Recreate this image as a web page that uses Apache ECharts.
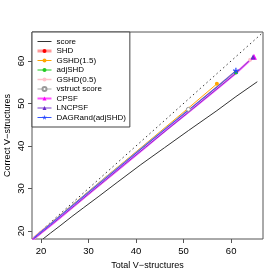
<!DOCTYPE html>
<html><head><meta charset="utf-8">
<script src="https://cdn.jsdelivr.net/npm/echarts@6/dist/echarts.min.js"></script>
<style>html,body{margin:0;padding:0;background:#fff}#c{width:280px;height:280px}</style>
</head><body><div id="c"></div>
<script>
var xTicks = [20, 30, 40, 50, 60];
var yTicks = [20, 30, 40, 50, 60];
var refX = [18.1, 66.7];
var refY = [18.1, 66.7];

var scoreX = [20.4, 22, 24, 26.5, 29, 32, 36, 41, 46, 51, 57, 61, 65.5];
var scoreY = [18.1, 19.5, 21.2, 23.4, 25.5, 28.0, 31.4, 35.6, 39.6, 43.6, 48.3, 51.6, 55.1];

var shdX = [18.4, 20, 22, 24.5, 27, 30, 33.5, 37.5, 42, 46.5, 51, 57, 61];
var shdY = [18.2, 19.7, 21.5, 23.8, 26.1, 28.9, 32.1, 35.8, 40.0, 44.1, 48.2, 53.7, 57.4];

var g15X = [18.5, 20, 22, 24.5, 27, 30, 33.5, 37.5, 42, 46.5, 51, 57];
var g15Y = [18.3, 19.8, 21.7, 24.1, 26.5, 29.3, 32.6, 36.3, 40.5, 44.7, 48.9, 54.6];

var adjX = [18.4, 20, 22, 24.5, 27, 30, 33.5, 37.5, 42, 46.5, 51, 57, 61];
var adjY = [18.2, 19.7, 21.6, 23.9, 26.2, 29.0, 32.2, 35.9, 40.1, 44.2, 48.3, 53.8, 57.3];

var g05X = [18.3, 20, 22, 24.5, 27, 30, 33.5, 37.5, 42, 46.5, 51, 57, 61, 64];
var g05Y = [18.0, 19.6, 21.4, 23.7, 26.0, 28.8, 32.0, 35.7, 39.8, 44.0, 48.0, 53.5, 57.2, 60.3];

var vsX = [18.6, 19.5, 20.5, 21.5, 23, 24.5, 26, 28, 30, 33.5, 37.5, 42, 46.5, 51];
var vsY = [18.5, 19.4, 20.3, 21.3, 22.7, 24.1, 25.6, 27.4, 29.3, 32.6, 36.2, 40.4, 44.5, 48.6];

var cpX = [18.2, 20, 22, 24.5, 27, 30, 33.5, 37.5, 42, 46.5, 51, 57, 61, 64.8];
var cpY = [17.9, 19.5, 21.3, 23.6, 25.9, 28.7, 31.9, 35.6, 39.7, 43.9, 47.9, 53.4, 57.1, 61.0];

var lnX = [18.2, 20, 22, 24.5, 27, 30, 33.5, 37.5, 42, 46.5, 51, 57, 61, 64.6];
var lnY = [17.9, 19.5, 21.3, 23.6, 25.9, 28.7, 31.9, 35.6, 39.7, 43.8, 47.9, 53.4, 57.1, 60.9];

var dagX = [18.4, 20, 22, 24.5, 27, 30, 33.5, 37.5, 42, 46.5, 51, 57, 61];
var dagY = [18.3, 19.8, 21.6, 24.0, 26.3, 29.1, 32.3, 36.0, 40.2, 44.3, 48.4, 53.9, 57.7];

function pts(xs, ys){ return xs.map(function(x,i){return [x, ys[i]];}); }

var FONT = 'Liberation Sans';
var chart = echarts.init(document.getElementById('c'), null, {renderer:'canvas'});
function ser(name, xs, ys, lineColor, lw, sym, symColor, symSize, extra){
  var last = xs.length - 1;
  var s = {
    name: name, type: 'line', data: pts(xs, ys),
    symbol: sym, showSymbol: true,
    symbolSize: function(v, p){ return p.dataIndex === last ? symSize : 0; },
    lineStyle: {color: lineColor, width: lw},
    itemStyle: {color: symColor, borderColor: symColor, borderWidth: 0},
    emphasis: {disabled: true}, silent: true
  };
  if (extra) for (var k in extra) s[k] = extra[k];
  return s;
}
var starPath = 'path://M4,0L6,0L6,3.6L9.4,2.5L10,4.4L6.6,5.5L8.7,8.4L7.1,9.6L5,6.7L2.9,9.6L1.3,8.4L3.4,5.5L0,4.4L0.6,2.5L4,3.6Z';
var legendNames = ['score','SHD','GSHD(1.5)','adjSHD','GSHD(0.5)','vstruct score','CPSF','LNCPSF','DAGRand(adjSHD)'];
var legendWidths = [1, 3, 1, 1, 1.5, 1, 2, 1, 1];
var option = {
  animation: false,
  grid: {left: 32, right: 17, top: 32, bottom: 41, show: true, borderColor: '#555', borderWidth: 1, backgroundColor: 'transparent', outerBoundsMode: 'none', containLabel: false},
  xAxis: {
    type: 'value', min: 18.1, max: 66.7,
    name: 'Total V\u2212structures', nameLocation: 'middle', nameGap: 22,
    nameTextStyle: {fontFamily: FONT, fontSize: 9, color: '#000'},
    axisLine: {show: false},
    axisTick: {show: true, length: 4, lineStyle: {color: '#555'}, customValues: xTicks},
    axisLabel: {fontFamily: FONT, fontSize: 9.5, color: '#000', margin: 7, customValues: xTicks},
    splitLine: {show: false}
  },
  yAxis: {
    type: 'value', min: 18.1, max: 66.8,
    name: 'Correct V\u2212structures', nameLocation: 'middle', nameGap: 20, nameMoveOverlap: false,
    nameTextStyle: {fontFamily: FONT, fontSize: 9, color: '#000'},
    axisLine: {show: false},
    axisTick: {show: true, length: 4, lineStyle: {color: '#555'}, customValues: yTicks},
    axisLabel: {fontFamily: FONT, fontSize: 9.5, color: '#000', margin: 6, rotate: 90, customValues: yTicks},
    splitLine: {show: false}
  },
  legend: {
    orient: 'vertical', left: 32, top: 32,
    padding: [5, 4, 5, 4], itemGap: 0.5, itemWidth: 14, itemHeight: 5,
    backgroundColor: '#fff', borderColor: '#444', borderWidth: 1, borderRadius: 0,
    textStyle: {fontFamily: FONT, fontSize: 8, color: '#000', lineHeight: 9},
    selectedMode: false,
    data: legendNames.map(function(n, i){
      var d = {name: n, lineStyle: {width: legendWidths[i]}};
      if (i === 0) d.itemStyle = {opacity: 0};
      return d;
    })
  },
  series: [
    {type: 'line', data: pts(refX, refY), symbol: 'none', lineStyle: {color: '#333', width: 1, type: [1.5, 3]}, silent: true, z: 1},
    ser('score', scoreX, scoreY, '#333', 1, 'none', '#333', 0),
    ser('SHD', shdX, shdY, '#ff9a9a', 3, 'circle', '#ff0000', 4),
    ser('GSHD(1.5)', g15X, g15Y, '#ffa500', 1, 'circle', '#ffa500', 4),
    ser('adjSHD', adjX, adjY, '#22cc22', 1, 'circle', '#22cc22', 4),
    ser('GSHD(0.5)', g05X, g05Y, '#ffc0cb', 1.5, 'circle', '#ffc0cb', 4),
    ser('vstruct score', vsX, vsY, '#aaaaaa', 1, 'circle', '#999999', 4, {itemStyle: {color: '#fff', borderColor: '#999', borderWidth: 1}}),
    ser('CPSF', cpX, cpY, '#ff55ff', 2, 'triangle', '#ff00ff', 6),
    ser('LNCPSF', lnX, lnY, '#7b3fd0', 1, 'triangle', '#6a2bc8', 5),
    ser('DAGRand(adjSHD)', dagX, dagY, '#3355ff', 1, starPath, '#2244ff', 6)
  ]
};
chart.setOption(option);
</script></body></html>
